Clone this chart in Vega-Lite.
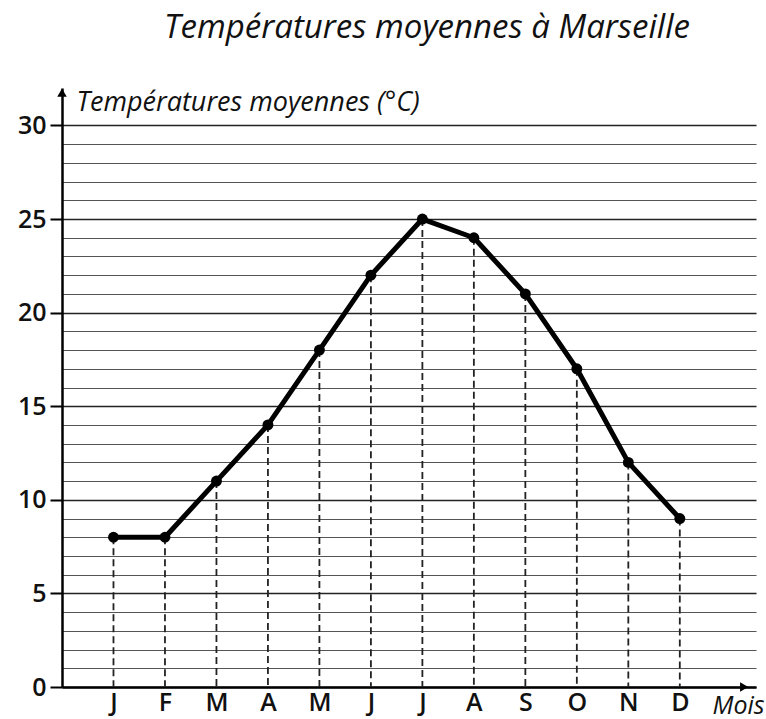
{
  "$schema": "https://vega.github.io/schema/vega-lite/v6.json",
  "autosize": "none",
  "width": 694,
  "height": 599,
  "padding": {"left": 62, "top": 88, "right": 10, "bottom": 32},
  "background": "white",
  "config": {"view": {"stroke": null}, "font": "Open Sans"},
  "title": {
    "text": "Températures moyennes à Marseille",
    "font": "Open Sans",
    "fontStyle": "italic",
    "fontWeight": "normal",
    "fontSize": 33,
    "color": "#111",
    "anchor": "middle",
    "frame": "group",
    "dx": 18,
    "baseline": "alphabetic",
    "offset": 17
  },
  "datasets": {
    "temps": [
      {"i": 1, "mois": "J", "t": 8},
      {"i": 2, "mois": "F", "t": 8},
      {"i": 3, "mois": "M", "t": 11},
      {"i": 4, "mois": "A", "t": 14},
      {"i": 5, "mois": "M", "t": 18},
      {"i": 6, "mois": "J", "t": 22},
      {"i": 7, "mois": "J", "t": 25},
      {"i": 8, "mois": "A", "t": 24},
      {"i": 9, "mois": "S", "t": 21},
      {"i": 10, "mois": "O", "t": 17},
      {"i": 11, "mois": "N", "t": 12},
      {"i": 12, "mois": "D", "t": 9}
    ],
    "arrows": [
      {"x": 0, "y": 31.75, "shape": "triangle-up"},
      {"x": 13.25, "y": 0, "shape": "triangle-right"}
    ]
  },
  "layer": [
    {
      "data": {"name": "temps"},
      "mark": {"type": "rule", "color": "#222", "strokeDash": [7, 4], "strokeWidth": 1.8},
      "encoding": {
        "x": {
          "field": "i",
          "type": "quantitative",
          "scale": {"domain": [0, 13.48], "nice": false, "zero": false},
          "axis": {
            "values": [1, 2, 3, 4, 5, 6, 7, 8, 9, 10, 11, 12],
            "tickCount": 100,
            "labelExpr": "['J','F','M','A','M','J','J','A','S','O','N','D'][datum.value-1]",
            "ticks": false,
            "grid": false,
            "domainColor": "#000",
            "domainWidth": 2.5,
            "labelFont": "Open Sans",
            "labelFontSize": 25,
            "labelFontWeight": 600,
            "labelColor": "#111",
            "labelPadding": 3,
            "labelFlush": false,
            "labelOverlap": false,
            "title": "Mois",
            "titleFont": "Open Sans",
            "titleFontStyle": "italic",
            "titleFontWeight": "normal",
            "titleFontSize": 25,
            "titleColor": "#111",
            "titleAlign": "left",
            "titleBaseline": "alphabetic",
            "titleX": 650,
            "titleY": 26
          }
        },
        "y": {
          "field": "t",
          "type": "quantitative",
          "scale": {"domain": [0, 32], "nice": false},
          "axis": {
            "values": [0, 1, 2, 3, 4, 5, 6, 7, 8, 9, 10, 11, 12, 13, 14, 15, 16, 17, 18, 19, 20, 21, 22, 23, 24, 25, 26, 27, 28, 29, 30],
            "tickCount": 100,
            "format": "d",
            "labelExpr": "datum.value % 5 === 0 ? format(datum.value, 'd') : ''",
            "tickSize": {"condition": {"test": "datum.value % 5 === 0", "value": 12}, "value": 0},
            "tickColor": "#000",
            "tickWidth": 2,
            "grid": true,
            "gridColor": {"condition": {"test": "datum.value % 5 === 0", "value": "#222"}, "value": "#555"},
            "gridWidth": {"condition": {"test": "datum.value % 5 === 0", "value": 1.6}, "value": 1},
            "gridOpacity": 1,
            "domainColor": "#000",
            "domainWidth": 2.5,
            "labelFont": "Open Sans",
            "labelFontSize": 25,
            "labelFontWeight": 600,
            "labelColor": "#111",
            "labelPadding": 4,
            "labelOverlap": false,
            "title": "Températures moyennes (°C)",
            "titleFont": "Open Sans",
            "titleFontStyle": "italic",
            "titleFontWeight": "normal",
            "titleFontSize": 27,
            "titleColor": "#111",
            "titleAngle": 0,
            "titleAlign": "left",
            "titleBaseline": "alphabetic",
            "titleX": 14,
            "titleY": 22
          }
        },
        "y2": {"datum": 0}
      }
    },
    {
      "data": {"name": "temps"},
      "mark": {"type": "line", "color": "#000", "strokeWidth": 5, "strokeJoin": "round"},
      "encoding": {
        "x": {"field": "i", "type": "quantitative"},
        "y": {"field": "t", "type": "quantitative"}
      }
    },
    {
      "data": {"name": "temps"},
      "mark": {"type": "point", "filled": true, "color": "#000", "opacity": 1, "size": 120},
      "encoding": {
        "x": {"field": "i", "type": "quantitative"},
        "y": {"field": "t", "type": "quantitative"}
      }
    },
    {
      "data": {"name": "arrows"},
      "mark": {"type": "point", "filled": true, "color": "#000", "opacity": 1, "size": 90},
      "encoding": {
        "x": {"field": "x", "type": "quantitative"},
        "y": {"field": "y", "type": "quantitative"},
        "shape": {"field": "shape", "type": "nominal", "scale": null}
      }
    }
  ]
}
